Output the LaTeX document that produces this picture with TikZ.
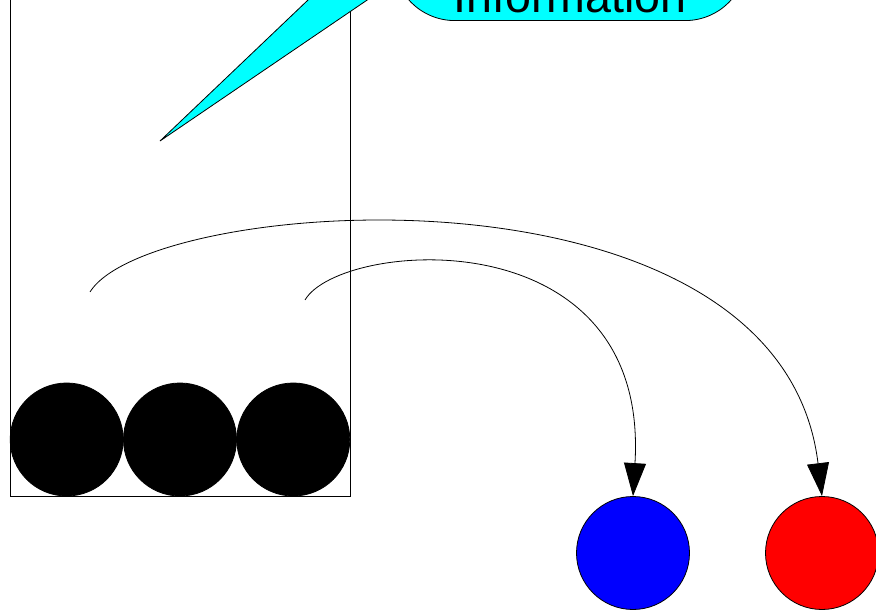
\documentclass[tikz,border=0pt]{standalone}
\usepackage{fontspec}
\setmainfont{Liberation Sans}
\usepackage{xcolor}
\usetikzlibrary{arrows.meta}

\definecolor{infocyan}{RGB}{0,255,255}
\definecolor{ballblue}{RGB}{0,0,255}
\definecolor{ballred}{RGB}{255,0,0}

\begin{document}
\begin{tikzpicture}[
  x=1pt, y=-1pt,
  line width=0.8pt,
  ball/.style={circle, draw, minimum size=113pt, inner sep=0pt},
  callout/.style={draw, fill=infocyan},
  infobox/.style={callout, rectangle, rounded corners=62pt,
    minimum width=354pt, text height=130pt, text depth=0pt,
    inner ysep=8pt, font=\fontsize{46.6}{56}\selectfont},
  arrow/.style={-{Triangle[length=33pt, width=22pt]}},
]
\useasboundingbox (0,0) rectangle (876,612);
\clip (0,0) rectangle (876,612);

% Container
\draw (10,-10) -- (10,496) -- (350,496) -- (350,-10);

% Balls in the container
\foreach \i/\x in {1/66.7, 2/180, 3/293.3}
  \node[ball, fill=black] (ball\i) at (\x,439.5) {};

% Balls outside
\node[ball, fill=ballblue] (blueball) at (633,553) {};
\node[ball, fill=ballred] (redball) at (822,553) {};

% Callout
\coordinate (tip) at (160,141);
\draw[callout] (tip) -- (350,-40) -- (426,-40) -- cycle;
\node[infobox, anchor=south] (info) at (570,21) {Information};

% Arrows
\coordinate (startin) at (305,300);
\coordinate (startout) at (90,292);
\draw[arrow] (startin) .. controls (340,240) and (650,215) .. (blueball.north);
\draw[arrow] (startout) .. controls (150,195) and (780,150) .. (redball.north);

\end{tikzpicture}
\end{document}
